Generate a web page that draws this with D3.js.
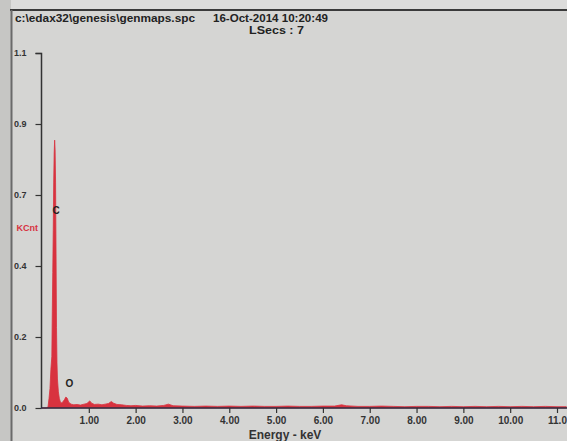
<!DOCTYPE html>
<html><head><meta charset="utf-8">
<script src="https://cdn.jsdelivr.net/npm/d3@7"></script>
<style>html,body{margin:0;padding:0;background:#d4d4d2;overflow:hidden}svg{display:block}</style>
</head><body>
<svg id="c" width="567" height="441"></svg>
<script>
const titleFile = "c:\\edax32\\genesis\\genmaps.spc";
const titleDate = "16-Oct-2014 10:20:49";
const titleLive = "LSecs : 7";
const yAxisLabel = "KCnt";
const xAxisLabel = "Energy - keV";
const xTicks = [1, 2, 3, 4, 5, 6, 7, 8, 9, 10, 11];
const yTicks = [0, 0.22, 0.44, 0.66, 0.88, 1.1];
const energy = [0.00,0.10,0.13,0.15,0.17,0.19,0.21,0.22,0.23,0.24,0.25,0.26,0.27,0.28,0.29,0.30,0.31,0.32,0.33,0.35,0.37,0.40,0.44,0.48,0.51,0.54,0.57,0.62,0.68,0.75,0.82,0.90,0.96,1.02,1.06,1.12,1.20,1.28,1.35,1.42,1.48,1.53,1.60,1.70,1.80,1.90,2.00,2.15,2.30,2.45,2.60,2.70,2.80,3.00,3.25,3.50,3.75,4.00,4.25,4.50,4.75,5.00,5.25,5.50,5.75,6.00,6.25,6.40,6.50,6.75,7.00,7.25,7.50,7.75,8.00,8.25,8.50,8.75,9.00,9.25,9.50,9.75,10.00,10.25,10.50,10.75,11.00,11.20];
const counts = [0,0,0.005,0.03,0.06,0.12,0.16,0.30,0.42,0.55,0.70,0.79,0.83,0.80,0.70,0.48,0.25,0.14,0.09,0.05,0.03,0.015,0.018,0.026,0.034,0.030,0.018,0.012,0.010,0.011,0.009,0.012,0.014,0.022,0.015,0.011,0.012,0.010,0.012,0.014,0.020,0.015,0.011,0.010,0.008,0.007,0.008,0.006,0.007,0.006,0.008,0.012,0.007,0.006,0.005,0.006,0.005,0.006,0.005,0.006,0.005,0.005,0.006,0.005,0.005,0.006,0.006,0.010,0.007,0.005,0.005,0.006,0.005,0.004,0.005,0.005,0.004,0.005,0.004,0.005,0.004,0.005,0.004,0.005,0.004,0.005,0.004,0.004];
const peakLabels = ["C", "O"];
const peakEnergy = [0.28, 0.52];
const peakLabelValue = [0.60, 0.065];

const svg = d3.select("#c");
const font = "'Liberation Sans', Arial, sans-serif";
const x = d3.scaleLinear().domain([0, 11]).range([42, 557]);
const y = d3.scaleLinear().domain([0, 1.1]).range([408, 53]);

// frame
svg.append("rect").attr("x",0).attr("y",0).attr("width",567).attr("height",441).attr("fill","#d5d5d3");
svg.append("rect").attr("x",0).attr("y",0).attr("width",567).attr("height",9).attr("fill","#dcdcdb");
svg.append("rect").attr("x",0).attr("y",0).attr("width",11).attr("height",441).attr("fill","#c6c6c4");
svg.append("line").attr("x1",10).attr("x2",567).attr("y1",10).attr("y2",10).attr("stroke","#3a3a3a").attr("stroke-width",2);
svg.append("line").attr("x1",11.5).attr("x2",11.5).attr("y1",10).attr("y2",441).attr("stroke","#6a6a6a").attr("stroke-width",2);

// titles
svg.append("text").attr("x",15).attr("y",22).attr("font-family",font).attr("font-weight","bold").attr("font-size",11).attr("textLength",180).attr("lengthAdjust","spacingAndGlyphs").attr("fill","#222").text(titleFile);
svg.append("text").attr("x",213).attr("y",22).attr("font-family",font).attr("font-weight","bold").attr("font-size",11).attr("textLength",115).attr("lengthAdjust","spacingAndGlyphs").attr("fill","#222").text(titleDate);
svg.append("text").attr("x",249).attr("y",34).attr("font-family",font).attr("font-weight","bold").attr("font-size",11).attr("textLength",55).attr("lengthAdjust","spacingAndGlyphs").attr("fill","#222").text(titleLive);

// spectrum
const pts = energy.map((e,i)=>({e, c: counts[i]}));
const area = d3.area().x(d=>x(d.e)).y0(y(0)).y1(d=>y(d.c));
svg.append("path").datum(pts).attr("d", area).attr("fill","#d8323f").attr("stroke","#d8323f").attr("stroke-width",0.8);

// y axis
const yAxis = d3.axisLeft(y).tickValues(yTicks).tickFormat(d3.format(".1f")).tickSize(6).tickPadding(9);
const gy = svg.append("g").attr("transform","translate(41.5,0)").call(yAxis);
gy.select(".domain").attr("stroke","#333").attr("stroke-width",1.5).attr("d","M-6,53.5H0V408");
gy.selectAll(".tick line").attr("stroke","#333").attr("stroke-width",1.2);
gy.selectAll(".tick text").attr("font-family",font).attr("font-weight","bold").attr("font-size",9).attr("fill","#333");

// x axis
const xAxis = d3.axisBottom(x).tickValues(xTicks).tickFormat(d3.format(".2f")).tickSize(5).tickPadding(4);
const gx = svg.append("g").attr("transform","translate(0,408)").call(xAxis);
gx.select(".domain").attr("stroke","#2b2f45").attr("stroke-width",1.5).attr("d","M41,0H567");
gx.selectAll(".tick line").attr("stroke","#333").attr("stroke-width",1.2);
gx.selectAll(".tick text").attr("font-family",font).attr("font-weight","bold").attr("font-size",10).attr("fill","#333").text(d=> d===11 ? "11.0" : d3.format(".2f")(d));

// axis labels
svg.append("text").attr("x",285).attr("y",439).attr("text-anchor","middle").attr("font-family",font).attr("font-weight","bold").attr("font-size",12).attr("fill","#333").text(xAxisLabel);
svg.append("text").attr("x",38).attr("y",231).attr("text-anchor","end").attr("font-family",font).attr("font-weight","bold").attr("font-size",9).attr("fill","#d8323f").text(yAxisLabel);

// peak labels
svg.selectAll("text.pk").data(peakLabels).enter().append("text").attr("class","pk")
  .attr("x",(d,i)=>x(peakEnergy[i]) + (i===0?1:3)).attr("y",(d,i)=>y(peakLabelValue[i]))
  .attr("text-anchor","middle").attr("font-family",font).attr("font-weight","bold").attr("font-size",10).attr("fill","#222").text(d=>d);
</script>
</body></html>
